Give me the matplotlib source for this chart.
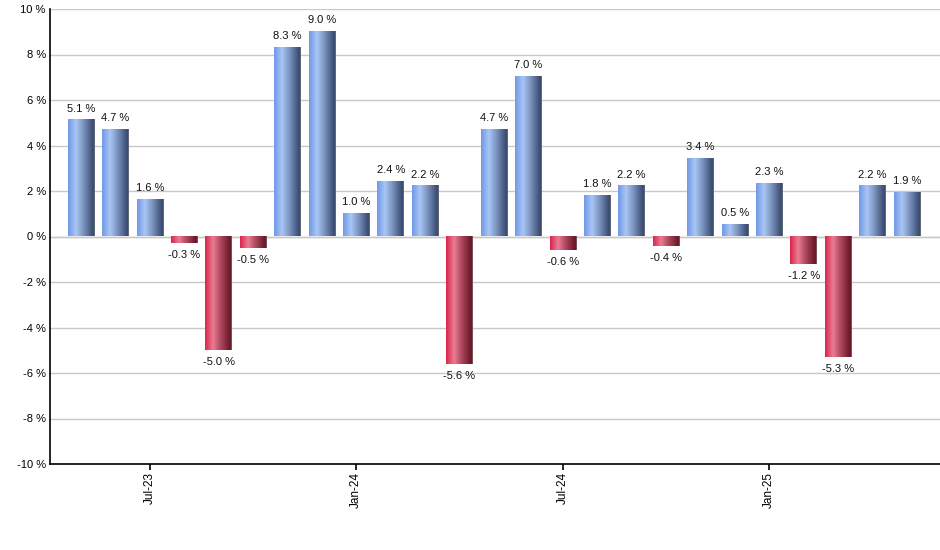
import numpy as np
import matplotlib
matplotlib.use("Agg")
import matplotlib.pyplot as plt
from matplotlib.colors import LinearSegmentedColormap

months = ["May-23", "Jun-23", "Jul-23", "Aug-23", "Sep-23", "Oct-23", "Nov-23", "Dec-23",
          "Jan-24", "Feb-24", "Mar-24", "Apr-24", "May-24", "Jun-24", "Jul-24", "Aug-24",
          "Sep-24", "Oct-24", "Nov-24", "Dec-24", "Jan-25", "Feb-25", "Mar-25", "Apr-25", "May-25"]
values = [5.1, 4.7, 1.6, -0.3, -5.0, -0.5, 8.3, 9.0, 1.0, 2.4, 2.2, -5.6, 4.7, 7.0,
          -0.6, 1.8, 2.2, -0.4, 3.4, 0.5, 2.3, -1.2, -5.3, 2.2, 1.9]
yticks = [-10, -8, -6, -4, -2, 0, 2, 4, 6, 8, 10]

plt.rcParams['font.family'] = ['Liberation Sans', 'DejaVu Sans']

blue_cmap = LinearSegmentedColormap.from_list(
    "blue", [(0.0, "#6f98e6"), (0.3, "#a9c6f5"), (0.55, "#7f98c4"),
             (0.93, "#3a4c72"), (0.96, "#3a4a6c"), (1.0, "#808080")])
red_cmap = LinearSegmentedColormap.from_list(
    "red", [(0.0, "#d9234a"), (0.3, "#ea7d94"), (0.55, "#b44d64"),
            (0.93, "#6b1628"), (0.96, "#6a1828"), (1.0, "#808080")])

fig = plt.figure(figsize=(9.4, 5.5), dpi=100)
ax = fig.add_axes([50 / 940, (550 - 464) / 550, 890 / 940, 455 / 550])

x = np.arange(len(values))
width = 0.77
grad = np.linspace(0, 1, 256).reshape(1, -1)

ax.set_axisbelow(True)
ax.yaxis.grid(True, color="#c8c8c8", linewidth=1.0)
ax.axhline(0, color="#c8c8c8", linewidth=1.0, zorder=1)

for xi, v in zip(x, values):
    cmap = blue_cmap if v >= 0 else red_cmap
    ax.imshow(grad, cmap=cmap, aspect="auto", interpolation="bilinear",
              extent=[xi - width / 2, xi + width / 2, min(0, v), max(0, v)], zorder=2)
    if v >= 0:
        ax.annotate(f"{v:.1f} %", (xi, v), xytext=(0, 5), textcoords="offset points",
                    ha="center", va="bottom", fontsize=8, color="#111111")
    else:
        ax.annotate(f"{v:.1f} %", (xi, v), xytext=(0, -5), textcoords="offset points",
                    ha="center", va="top", fontsize=8, color="#111111")

ax.set_xlim(-0.9, 24.96)
ax.set_ylim(-10, 10)
ax.set_yticks(yticks)
ax.set_yticklabels([f"{t} %" for t in yticks])

tick_idx = [i for i, m in enumerate(months) if m.startswith("Jan") or m.startswith("Jul")]
ax.set_xticks(tick_idx)
ax.set_xticklabels([months[i] for i in tick_idx], rotation=90)

ax.tick_params(axis="y", length=0, pad=3, labelsize=8)
ax.tick_params(axis="x", length=4, width=1.2, pad=2, labelsize=8.5, direction="out")

for s in ["top", "right"]:
    ax.spines[s].set_visible(False)
for s in ["left", "bottom"]:
    ax.spines[s].set_color("black")
    ax.spines[s].set_linewidth(1.2)

fig.savefig("out.png", dpi=100)
